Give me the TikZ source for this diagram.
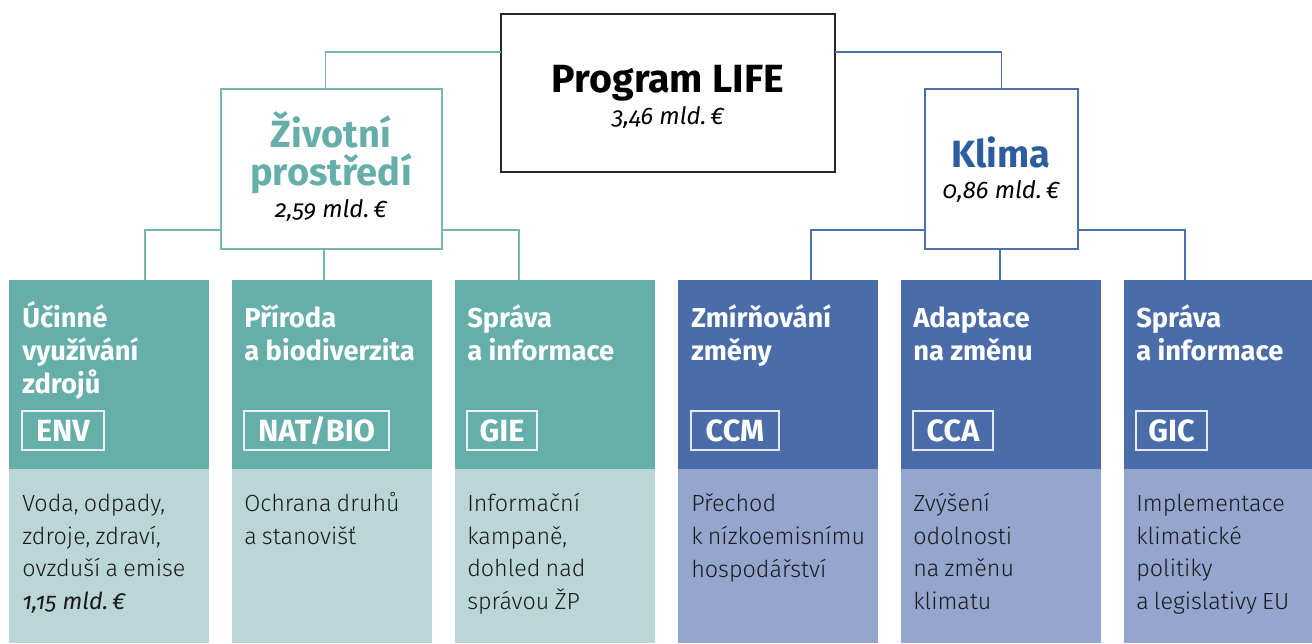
\documentclass[tikz,border=0pt]{standalone}
\usepackage{fontspec}
\setmainfont{Fira Sans}[Numbers=OldStyle]
\newfontfamily\bodyfont{Fira Sans Light}[Numbers=OldStyle, WordSpace=0.8]
\usetikzlibrary{calc}
\definecolor{tealD}{HTML}{66AEA9}
\definecolor{tealL}{HTML}{BBD6D6}
\definecolor{blueD}{HTML}{4A6CA9}
\definecolor{blueL}{HTML}{94A5CE}
\definecolor{tealLine}{HTML}{76B6B1}
\definecolor{blueLine}{HTML}{4870AC}
\definecolor{klimaT}{HTML}{2C5D9D}
\definecolor{bodyT}{HTML}{1A1A1A}
\tikzset{
  boxnode/.style={anchor=north west, inner sep=0pt, outer sep=0pt},
  tl/.style={draw=tealLine, line width=1.1pt},
  bl/.style={draw=blueLine, line width=1.1pt},
  coltop/.style={boxnode, minimum width=150pt, minimum height=141.75pt},
  colbot/.style={boxnode, minimum width=150pt, minimum height=130.5pt},
  coltitle/.style={anchor=base west, inner sep=0pt, align=left, text=white,
     font=\fontsize{20.5}{24.75}\selectfont\bfseries},
  colbody/.style={anchor=base west, inner sep=0pt, align=left, text=bodyT,
     font=\bodyfont\fontsize{17.5}{24.4}\selectfont},
  codebox/.style={boxnode, draw=white, draw opacity=0.85, line width=0.8pt,
     minimum height=29.25pt, text=white, font=\fontsize{23}{25}\selectfont\bfseries},
  amount/.style={anchor=base, inner sep=0pt, font=\fontsize{18}{20}\selectfont\itshape},
  headT/.style={anchor=base, inner sep=0pt, font=\fontsize{28.5}{31}\selectfont\bfseries},
}
\begin{document}
\begin{tikzpicture}[x=0.75pt,y=-0.75pt]
\useasboundingbox (0,0) rectangle (1312,643);
\fill[white] (0,0) rectangle (1312,643);

% top boxes
\node[boxnode, draw=black!85, line width=1.2pt, minimum width=250.5pt, minimum height=118.5pt] (main) at (501,14) {};
\node[headT, font=\fontsize{29.5}{32}\selectfont\bfseries] (mainT) at (668,92) {Program LIFE};
\node[amount] (mainA) at (668,124) {3,46 mld.\,€};

\node[boxnode, draw=tealLine, line width=1.1pt, minimum width=165.75pt, minimum height=120pt] (zp) at (221,89) {};
\node[headT, text=tealD] (zpT1) at (331,147) {Životní};
\node[headT, text=tealD] (zpT2) at (331,185) {prostředí};
\node[amount] (zpA) at (331,217) {2,59 mld.\,€};

\node[boxnode, draw=blueLine, line width=1.1pt, minimum width=114.75pt, minimum height=120pt] (kli) at (925,89) {};
\node[headT, text=klimaT] (kliT) at (1001,167) {Klima};
\node[amount] (kliA) at (1001,198) {0,86 mld.\,€};

% columns
\node[coltop, fill=tealD] (c1) at (9,280) {};
\node[colbot, fill=tealL] (b1) at (9,469) {};
\node[coltop, fill=tealD] (c2) at (232,280) {};
\node[colbot, fill=tealL] (b2) at (232,469) {};
\node[coltop, fill=tealD] (c3) at (455,280) {};
\node[colbot, fill=tealL] (b3) at (455,469) {};
\node[coltop, fill=blueD] (c4) at (678,280) {};
\node[colbot, fill=blueL] (b4) at (678,469) {};
\node[coltop, fill=blueD] (c5) at (901,280) {};
\node[colbot, fill=blueL] (b5) at (901,469) {};
\node[coltop, fill=blueD, minimum width=141pt] (c6) at (1124,280) {};
\node[colbot, fill=blueL, minimum width=141pt] (b6) at (1124,469) {};

% titles (anchor = baseline of the last line)
\node[coltitle] (t1) at (22,393.5) {Účinné\\využívání\\zdrojů};
\node[coltitle] (t2) at (244,360.5) {Příroda\\a biodiverzita};
\node[coltitle] (t3) at (467,360.5) {Správa\\a informace};
\node[coltitle] (t4) at (691,360.5) {Zmírňování\\změny};
\node[coltitle] (t5) at (913,360.5) {Adaptace\\na změnu};
\node[coltitle] (t6) at (1136,360.5) {Správa\\a informace};

% codes
\node[codebox, minimum width=61.5pt] (k1) at (22,411) {ENV};
\node[codebox, minimum width=108.75pt] (k2) at (244,411) {NAT/BIO};
\node[codebox, minimum width=52.5pt] (k3) at (467,411) {GIE};
\node[codebox, minimum width=66pt] (k4) at (691,411) {CCM};
\node[codebox, minimum width=60pt] (k5) at (913,411) {CCA};
\node[codebox, minimum width=53.25pt] (k6) at (1136,411) {GIC};

% bodies (anchor = baseline of the last line)
\node[colbody] (d1) at (22,609.5) {Voda, odpady,\\zdroje, zdraví,\\ovzduší a emise\\{\normalfont\itshape 1,15 mld.\,€}};
\node[colbody] (d2) at (244,544.5) {Ochrana druhů\\a stanovišť};
\node[colbody] (d3) at (467,609.5) {Informační\\kampaně,\\dohled nad\\správou ŽP};
\node[colbody] (d4) at (691,577) {Přechod\\k nízkoemisnímu\\hospodářství};
\node[colbody] (d5) at (913,609.5) {Zvýšení\\odolnosti\\na změnu\\klimatu};
\node[colbody] (d6) at (1136,609.5) {Implementace\\klimatické\\politiky\\a legislativy EU};

% connector junctions
\coordinate (jz) at ($(zp.north)+(-6,0)$);
\coordinate (j1) at ($(c1.north west)+(136,0)$);
\coordinate (j2) at ($(c2.north west)+(92,0)$);
\coordinate (j3) at ($(c3.north west)+(64,0)$);
\coordinate (j4) at ($(c4.north west)+(133,0)$);
\coordinate (j5) at ($(c5.north west)+(99,0)$);
\coordinate (j6) at ($(c6.north west)+(61,0)$);

% connectors
\draw[tl] ($(main.north west)!0.2405!(main.south west)$) -| (jz);
\draw[bl] ($(main.north east)!0.2405!(main.south east)$) -| (kli.north);
\draw[tl] ($(zp.north west)!0.881!(zp.south west)$) -| (j1);
\draw[tl] (zp.south -| j2) -- (j2);
\draw[tl] ($(zp.north east)!0.881!(zp.south east)$) -| (j3);
\draw[bl] ($(kli.north west)!0.881!(kli.south west)$) -| (j4);
\draw[bl] (kli.south -| j5) -- (j5);
\draw[bl] ($(kli.north east)!0.881!(kli.south east)$) -| (j6);
\end{tikzpicture}
\end{document}
